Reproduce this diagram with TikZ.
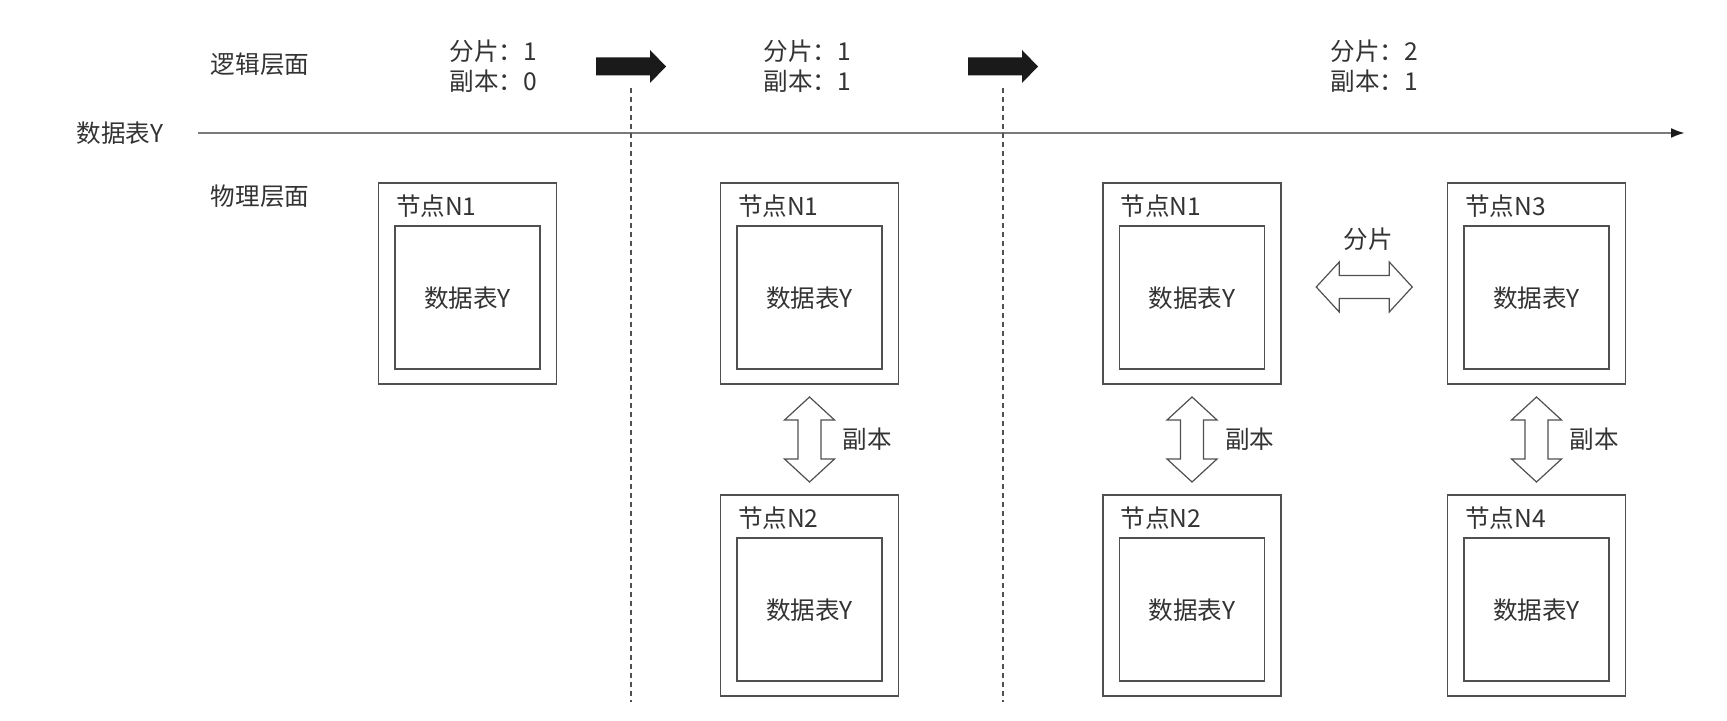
\documentclass[tikz,border=0pt]{standalone}
\usepackage{fontspec}
\setmainfont{Noto Sans CJK SC}
\usetikzlibrary{arrows.meta,positioning,calc}
\definecolor{inkgray}{HTML}{333333}
\definecolor{linegray}{HTML}{505050}
\definecolor{axisgray}{HTML}{7A7A7A}
\definecolor{stepfill}{HTML}{1A1A1A}

\begin{document}
\begin{tikzpicture}[x=0.5pt,y=-0.5pt,font=\fontsize{12.3}{15}\selectfont,text=inkgray,
  hostbox/.style={draw=linegray,line width=0.9pt,minimum width=89pt,minimum height=100.5pt,inner sep=0pt},
  tablebox/.style={draw=linegray,line width=0.9pt,minimum width=72.5pt,minimum height=71.5pt,inner sep=0pt},
  hostlabel/.style={anchor=west,inner sep=0pt},
  stage/.style={align=left,anchor=west,inner sep=0pt},
  timesep/.style={draw=linegray,line width=0.6pt,dash pattern=on 2.5pt off 2pt},
  hollowarrow/.style={draw=linegray,line width=0.6pt,fill=white},
  pics/dblarrow/.style={code={\draw[hollowarrow] (0,-#1) -- (25,-#1+23) -- (11.5,-#1+23) -- (11.5,#1-23) -- (25,#1-23) -- (0,#1) -- (-25,#1-23) -- (-11.5,#1-23) -- (-11.5,-#1+23) -- (-25,-#1+23) -- cycle;}},
  pics/steparrow/.style={code={\fill[stepfill] (-35,-9) -- (19,-9) -- (19,-16.5) -- (35,0) -- (19,16.5) -- (19,9) -- (-35,9) -- cycle;}}]
\useasboundingbox (0,0) rectangle (1727,721);
% time axis
\node (axis) at (120,133) {数据表Y};
\coordinate (axisstart) at (198,133);
\coordinate (axisend) at (1685,133);
\draw[-{Latex[length=7pt,width=5pt,color=stepfill]},axisgray,line width=1.2pt] (axisstart) -- (axisend);
\node (logic) at (260,64) {逻辑层面};
\node (phys) at (260,196) {物理层面};
% stages
\node[stage] (s1) at (449,66) {分片：1\\副本：0};
\node[stage] (s2) at (763,66) {分片：1\\副本：1};
\node[stage] (s3) at (1330,66) {分片：2\\副本：1};
\coordinate (cut1top) at (631,88);
\coordinate (cut1bot) at (631,702);
\coordinate (cut2top) at (1003,88);
\coordinate (cut2bot) at (1003,702);
\draw[timesep] (cut1top) -- (cut1bot);
\draw[timesep] (cut2top) -- (cut2bot);
\pic at (631,66.5) {steparrow};
\pic at (1003,66.5) {steparrow};
% stage 1
\node[hostbox] (s1n1) at (467.5,283.5) {};
\node[tablebox] (s1n1t) at ($(s1n1.center)+(0,14.3)$) {数据表Y};
\node[hostlabel] at ($(s1n1.north west)+(18,24)$) {节点N1};
% stage 2
\node[hostbox] (s2n1) at (809.5,283.5) {};
\node[tablebox] (s2n1t) at ($(s2n1.center)+(0,14.3)$) {数据表Y};
\node[hostlabel] at ($(s2n1.north west)+(18,24)$) {节点N1};
\node[hostbox] (s2n2) at (809.5,595.5) {};
\node[tablebox] (s2n2t) at ($(s2n2.center)+(0,14.3)$) {数据表Y};
\node[hostlabel] at ($(s2n2.north west)+(18,24)$) {节点N2};
\pic at ($(s2n1.south)!.5!(s2n2.north)$) {dblarrow=42.5};
\node[anchor=west] (s2rep) at ($(s2n1.south)!.5!(s2n2.north)+(26,0)$) {副本};
% stage 3
\node[hostbox] (s3n1) at (1192,283.5) {};
\node[tablebox] (s3n1t) at ($(s3n1.center)+(0,14.3)$) {数据表Y};
\node[hostlabel] at ($(s3n1.north west)+(18,24)$) {节点N1};
\node[hostbox] (s3n2) at (1192,595.5) {};
\node[tablebox] (s3n2t) at ($(s3n2.center)+(0,14.3)$) {数据表Y};
\node[hostlabel] at ($(s3n2.north west)+(18,24)$) {节点N2};
\node[hostbox] (s3n3) at (1536.5,283.5) {};
\node[tablebox] (s3n3t) at ($(s3n3.center)+(0,14.3)$) {数据表Y};
\node[hostlabel] at ($(s3n3.north west)+(18,24)$) {节点N3};
\node[hostbox] (s3n4) at (1536.5,595.5) {};
\node[tablebox] (s3n4t) at ($(s3n4.center)+(0,14.3)$) {数据表Y};
\node[hostlabel] at ($(s3n4.north west)+(18,24)$) {节点N4};
\pic at ($(s3n1.south)!.5!(s3n2.north)$) {dblarrow=42.5};
\node[anchor=west] (s3rep) at ($(s3n1.south)!.5!(s3n2.north)+(26,0)$) {副本};
\pic at ($(s3n3.south)!.5!(s3n4.north)$) {dblarrow=42.5};
\node[anchor=west] (s3rep2) at ($(s3n3.south)!.5!(s3n4.north)+(26,0)$) {副本};
\pic[rotate=90] at ($(s3n1.east)!.5!(s3n3.west)+(0,3.5)$) {dblarrow=48};
\node (s3shard) at ($(s3n1.east)!.5!(s3n3.west)+(4,-44)$) {分片};
\end{tikzpicture}
\end{document}
